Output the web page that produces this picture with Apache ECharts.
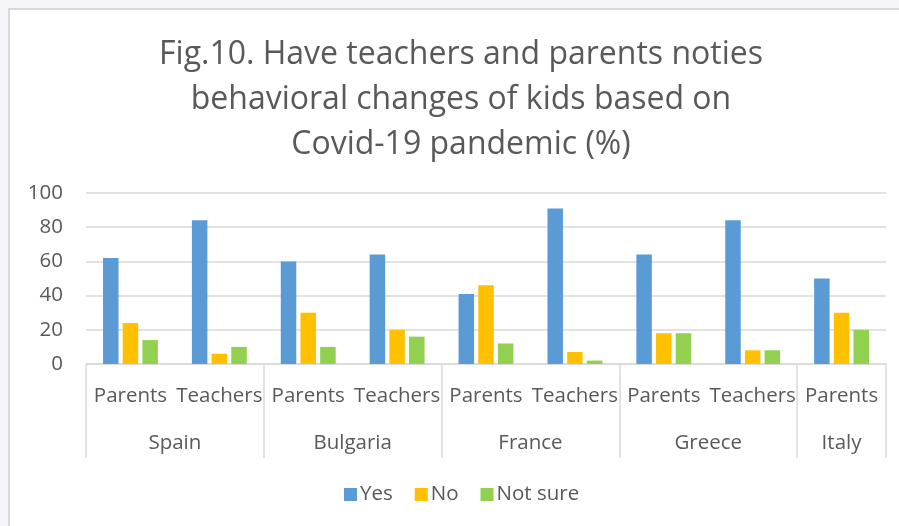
<!DOCTYPE html>
<html>
<head>
<meta charset="utf-8">
<script src="https://cdn.jsdelivr.net/npm/echarts@6/dist/echarts.min.js"></script>
<style>
html,body{margin:0;padding:0;background:#f5f5fa;}
#c{position:absolute;left:0;top:0;width:899px;height:526px;}
</style>
</head>
<body>
<div id="c"></div>
<script>
const roles = ['Parents','Teachers','Parents','Teachers','Parents','Teachers','Parents','Teachers','Parents'];
const countries = ['Spain','Bulgaria','France','Greece','Italy'];
const countrySpans = [2,2,2,2,1];
const yesValues = [62,84,60,64,41,91,64,84,50];
const noValues = [24,6,30,20,46,7,18,8,30];
const notSureValues = [14,10,10,16,12,2,18,8,20];
const yTicks = {min:0,max:100,interval:20};

// half-slot positions for the country axis
const halfSlots = [];
const tickIdx = [0];
const labelIdx = [];
let pos = 0;
countries.forEach((c,i)=>{
  labelIdx.push(pos + countrySpans[i]);
  pos += countrySpans[i]*2;
  tickIdx.push(pos);
});
for (let i=0;i<=pos;i++) halfSlots.push('');
countries.forEach((c,i)=>{ halfSlots[labelIdx[i]] = c; });

const txt = '#595959';
const gridCol = '#d9d9d9';
const font = '"Open Sans", sans-serif';
const fs = 20.5;
const chart = echarts.init(document.getElementById('c'));
chart.setOption({
  animation:false,
  textStyle:{fontFamily:font},
  graphic:[{type:'rect',z:-10,silent:true,shape:{x:9,y:9,width:920,height:540},style:{fill:'#ffffff',stroke:gridCol,lineWidth:2}}],
  title:{
    text:'Fig.10. Have teachers and parents noties\nbehavioral changes of kids based on\nCovid-19 pandemic (%)',
    left:456, top:27, textAlign:'center',
    textStyle:{fontSize:32,lineHeight:45,color:txt,fontWeight:'normal',fontFamily:font}
  },
  grid:{left:86,right:13,top:193,bottom:162},
  legend:{
    data:['Yes','No','Not sure'],
    left:344, top:484, padding:0, icon:'rect', itemWidth:13, itemHeight:13, itemGap:22,
    textStyle:{fontSize:fs,color:txt,fontFamily:font,padding:[0,0,0,-2]}
  },
  xAxis:[{
    type:'category', data:roles, position:'bottom',
    axisLine:{lineStyle:{color:gridCol,width:1.5}},
    axisTick:{show:false},
    axisLabel:{interval:0,margin:22,fontSize:fs,color:txt,fontFamily:font}
  },{
    type:'category', data:halfSlots, position:'bottom', boundaryGap:false,
    axisLine:{show:false},
    axisTick:{show:true,length:94,interval:(i)=>tickIdx.includes(i),lineStyle:{color:gridCol,width:1.5}},
    axisLabel:{interval:(i)=>labelIdx.includes(i),margin:69,fontSize:fs,color:txt,fontFamily:font}
  }],
  yAxis:{
    type:'value', min:yTicks.min, max:yTicks.max, interval:yTicks.interval,
    axisLine:{show:false}, axisTick:{show:false},
    splitLine:{lineStyle:{color:gridCol,width:1.5}},
    axisLabel:{margin:23,fontSize:fs,color:txt,fontFamily:font}
  },
  series:[
    {name:'Yes',type:'bar',data:yesValues,barWidth:15.5,barGap:'27%',itemStyle:{color:'#5B9BD5'}},
    {name:'No',type:'bar',data:noValues,barWidth:15.5,barGap:'27%',itemStyle:{color:'#FFC000'}},
    {name:'Not sure',type:'bar',data:notSureValues,barWidth:15.5,barGap:'27%',itemStyle:{color:'#92D050'}}
  ]
});
</script>
</body>
</html>
